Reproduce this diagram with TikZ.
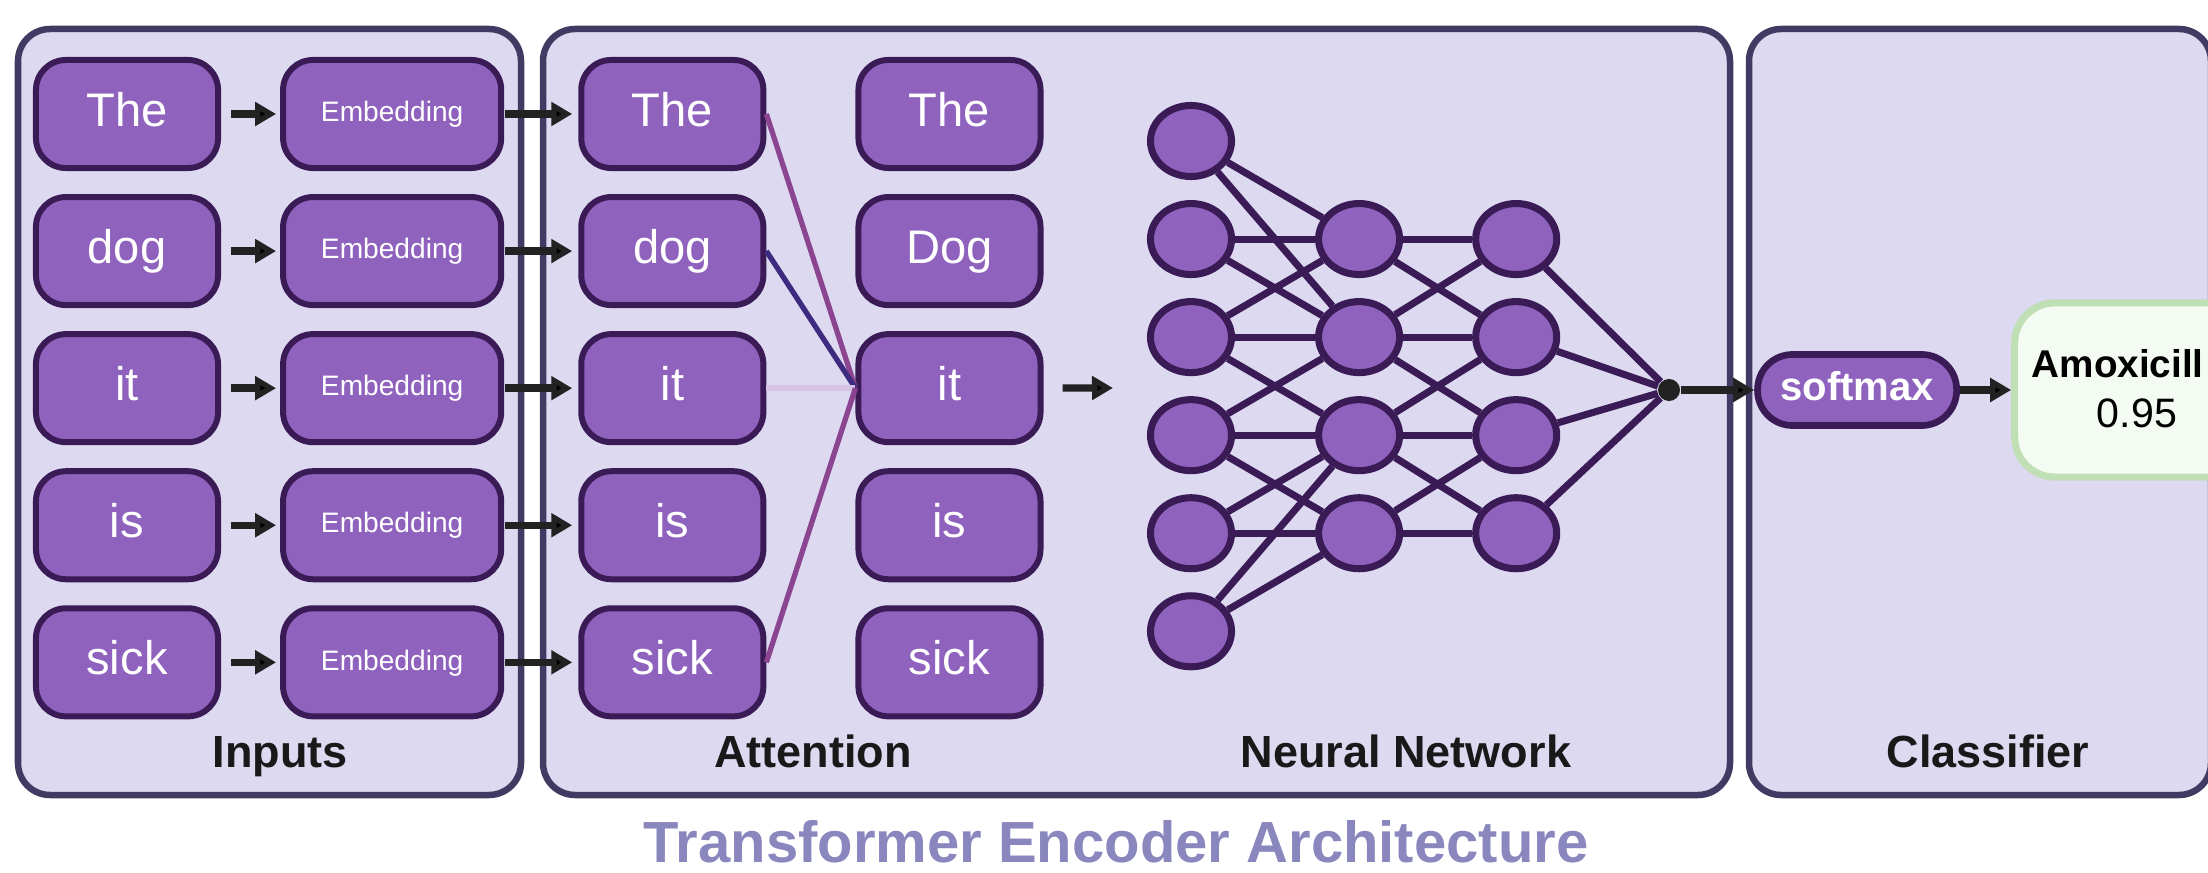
\documentclass[tikz,border=0pt]{standalone}
\usepackage{fontspec}
\setmainfont{Liberation Sans}
\usetikzlibrary{arrows.meta,shapes.geometric,positioning}

\definecolor{panelfill}{HTML}{DCD9F1}
\definecolor{paneldraw}{HTML}{433A63}
\definecolor{boxfill}{HTML}{8F62BE}
\definecolor{boxdraw}{HTML}{3A1B56}
\definecolor{arrowdark}{HTML}{222222}
\definecolor{titlecol}{HTML}{8A87BE}
\definecolor{resfill}{HTML}{F4FBF2}
\definecolor{resdraw}{HTML}{C1DFB5}
\definecolor{attmag}{HTML}{8A4490}
\definecolor{attind}{HTML}{3E2A7E}
\definecolor{attpale}{HTML}{D5C2E5}

\begin{document}
\begin{tikzpicture}[x=0.01cm,y=-0.01cm,>={Triangle[length=2.1mm,width=2.3mm]},
                    node distance=1.37cm]
  \tikzstyle{panel}=[draw=paneldraw,fill=panelfill,line width=1.85pt,rounded corners=0.32cm]
  \tikzstyle{word}=[rectangle,rounded corners=0.3cm,draw=boxdraw,fill=boxfill,line width=1.7pt,
                    text=white,minimum width=1.82cm,minimum height=1.08cm,inner sep=0pt,
                    font=\fontsize{13.4pt}{15pt}\selectfont,text height=9.8pt,text depth=2.6pt]
  \tikzstyle{embed}=[word,minimum width=2.18cm,font=\fontsize{8pt}{10pt}\selectfont,
                     text height=6pt,text depth=1.6pt]
  \tikzstyle{neuron}=[ellipse,draw=boxdraw,fill=boxfill,line width=2pt,minimum width=0.81cm,
                      minimum height=0.71cm,inner sep=0pt]
  \tikzstyle{synapse}=[draw=boxdraw,line width=2pt]
  \tikzstyle{flow}=[->,draw=arrowdark,line width=2.1pt]
  \tikzstyle{caption}=[anchor=base,font=\bfseries\fontsize{12.8pt}{15pt}\selectfont,text=black!90]
  \tikzstyle{softbox}=[rectangle,rounded corners=0.35cm,draw=boxdraw,fill=boxfill,line width=1.9pt,
                       text=white,minimum width=1.99cm,minimum height=0.71cm,inner sep=0pt,
                       font=\bfseries\fontsize{11.4pt}{13pt}\selectfont,text height=8.5pt,text depth=2.3pt]
  \tikzstyle{resbox}=[rectangle,rounded corners=0.4cm,draw=resdraw,fill=resfill,line width=2pt,
                      minimum width=2.45cm,minimum height=1.74cm]

  \useasboundingbox (0,0) rectangle (2208,873);
  \clip (0,0) rectangle (2208,873);

  \draw[panel] (18,29)   rectangle (521,795);
  \draw[panel] (543,29)  rectangle (1730,795);
  \draw[panel] (1749,29) rectangle (2211,795);

  \node[word]   (InThe)  at (127,114)                          {The};
  \node[word]   (InDog)  [below of=InThe]                      {dog};
  \node[word]   (InIt)   [below of=InDog]                      {it};
  \node[word]   (InIs)   [below of=InIt]                       {is};
  \node[word]   (InSick) [below of=InIs]                       {sick};

  \node[embed]  (EmbThe)  [node distance=2.65cm,right of=InThe] {Embedding};
  \node[embed]  (EmbDog)  [below of=EmbThe]                     {Embedding};
  \node[embed]  (EmbIt)   [below of=EmbDog]                     {Embedding};
  \node[embed]  (EmbIs)   [below of=EmbIt]                      {Embedding};
  \node[embed]  (EmbSick) [below of=EmbIs]                      {Embedding};

  \node[word]   (AttThe)  [node distance=2.8cm,right of=EmbThe] {The};
  \node[word]   (AttDog)  [below of=AttThe]                     {dog};
  \node[word]   (AttIt)   [below of=AttDog]                     {it};
  \node[word]   (AttIs)   [below of=AttIt]                      {is};
  \node[word]   (AttSick) [below of=AttIs]                      {sick};

  \node[word]   (OutThe)  [node distance=2.77cm,right of=AttThe] {The};
  \node[word]   (OutDog)  [below of=OutThe]                      {Dog};
  \node[word]   (OutIt)   [below of=OutDog]                      {it};
  \node[word]   (OutIs)   [below of=OutIt]                       {is};
  \node[word]   (OutSick) [below of=OutIs]                       {sick};

  \coordinate   (NetIn) at (1113,388);

  \node[neuron] (X1) at (1191,141)                             {};
  \node[neuron] (X2) [node distance=0.98cm,below of=X1]        {};
  \node[neuron] (X3) [node distance=0.98cm,below of=X2]        {};
  \node[neuron] (X4) [node distance=0.98cm,below of=X3]        {};
  \node[neuron] (X5) [node distance=0.98cm,below of=X4]        {};
  \node[neuron] (X6) [node distance=0.98cm,below of=X5]        {};
  \node[neuron] (H1) [node distance=1.68cm,right of=X2]        {};
  \node[neuron] (H2) [node distance=0.98cm,below of=H1]        {};
  \node[neuron] (H3) [node distance=0.98cm,below of=H2]        {};
  \node[neuron] (H4) [node distance=0.98cm,below of=H3]        {};
  \node[neuron] (G1) [node distance=1.57cm,right of=H1]        {};
  \node[neuron] (G2) [node distance=0.98cm,below of=G1]        {};
  \node[neuron] (G3) [node distance=0.98cm,below of=G2]        {};
  \node[neuron] (G4) [node distance=0.98cm,below of=G3]        {};
  \node[circle,fill=arrowdark,minimum size=0.22cm,inner sep=0pt] (Sum) at (1669,390) {};

  \node[softbox] (Soft) [node distance=1.88cm,right of=Sum]    {softmax};
  \node[resbox]  (Res)  [node distance=2.8cm,right of=Soft]    {};
  \node[anchor=base west,inner sep=0pt,font=\bfseries\fontsize{11pt}{13pt}\selectfont] (Drug) at (2031,378) {Amoxicill};
  \node[anchor=base,font=\fontsize{11.7pt}{13pt}\selectfont] (Prob) at (2137,427) {0.95};

  \node[caption] (LblIn)   at (280,767)  {Inputs};
  \node[caption] (LblAtt)  at (813,767)  {Attention};
  \node[caption] (LblNet)  at (1406,767) {Neural Network};
  \node[caption] (LblCls)  at (1988,767) {Classifier};
  \node[anchor=base,text=titlecol,font=\bfseries\fontsize{16.5pt}{19pt}\selectfont] (Title)
       at (1116,862) {Transformer Encoder Architecture};

  \path[flow,shorten <=1mm,shorten >=0.4mm]
        (InThe)  edge (EmbThe)
        (InDog)  edge (EmbDog)
        (InIt)   edge (EmbIt)
        (InIs)   edge (EmbIs)
        (InSick) edge (EmbSick);
  \path[flow,shorten <=0.1mm,shorten >=0.6mm]
        (EmbThe)  edge (AttThe)
        (EmbDog)  edge (AttDog)
        (EmbIt)   edge (AttIt)
        (EmbIs)   edge (AttIs)
        (EmbSick) edge (AttSick);

  \path (AttThe.east)  edge [draw=attmag,line width=1.5pt]  (OutIt.west)
        (AttDog.east)  edge [draw=attind,line width=1.5pt]  (OutIt.west)
        (AttIt.east)   edge [draw=attpale,line width=1.9pt] (OutIt.west)
        (AttSick.east) edge [draw=attmag,line width=1.5pt]  (OutIt.west);

  \path[flow,shorten <=1.9mm] (OutIt) edge (NetIn);

  \path[synapse] (X1) edge (H1) edge (H2)
                 (X2) edge (H1) edge (H2)
                 (X3) edge (H1) edge (H2) edge (H3)
                 (X4) edge (H2) edge (H3) edge (H4)
                 (X5) edge (H3) edge (H4)
                 (X6) edge (H3) edge (H4)
                 (H1) edge (G1) edge (G2)
                 (H2) edge (G1) edge (G2) edge (G3)
                 (H3) edge (G2) edge (G3) edge (G4)
                 (H4) edge (G3) edge (G4)
                 (G1) edge (Sum)
                 (G2) edge (Sum)
                 (G3) edge (Sum)
                 (G4) edge (Sum);

  \path[flow] (Sum)  edge (Soft)
              (Soft) edge (Res);
\end{tikzpicture}
\end{document}
